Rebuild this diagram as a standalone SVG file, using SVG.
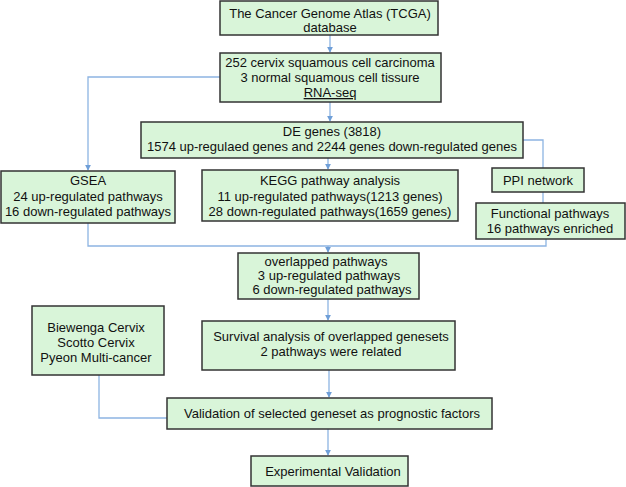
<svg xmlns="http://www.w3.org/2000/svg" width="626" height="487" viewBox="0 0 626 487">
<defs>
<style>
.box{fill:#d9f5d9;stroke:#333;stroke-width:1.5}
.t{font-family:"Liberation Sans",Arial,sans-serif;font-size:13px;fill:#111;text-anchor:middle}
.c{fill:none;stroke:#8db4e2;stroke-width:1.3}
</style>
<marker id="a" viewBox="0 0 8 8" refX="7" refY="4" markerWidth="6" markerHeight="6" orient="auto" markerUnits="userSpaceOnUse">
<path d="M0,0 L8,4 L0,8 z" fill="#6f9fd8"/>
</marker>
</defs>
<rect width="626" height="487" fill="#fff"/>
<g id="connectors">
<path class="c" d="M330,35 V52" marker-end="url(#a)"/>
<path class="c" d="M330,102 V121" marker-end="url(#a)"/>
<path class="c" d="M220,77 H88 V170" marker-end="url(#a)"/>
<path class="c" d="M328,158 V169" marker-end="url(#a)"/>
<path class="c" d="M523,140 H543 V168"/>
<path class="c" d="M543,192 V203"/>
<path class="c" d="M88,223 V246 H546 V239"/>
<path class="c" d="M328,246 V252" marker-end="url(#a)"/>
<path class="c" d="M328,299 V320" marker-end="url(#a)"/>
<path class="c" d="M329,370 V397" marker-end="url(#a)"/>
<path class="c" d="M99,375 V418 H167"/>
<path class="c" d="M328,429 V455" marker-end="url(#a)"/>
</g>
<g id="tcga"><rect class="box" x="220" y="1" width="218" height="34"/>
<text class="t" x="330" y="18">The Cancer Genome Atlas (TCGA)</text>
<text class="t" x="330" y="32">database</text></g>
<g id="samples"><rect class="box" x="220" y="53" width="221" height="49"/>
<text class="t" x="330" y="67">252 cervix squamous cell carcinoma</text>
<text class="t" x="330" y="82">3 normal squamous cell tissure</text>
<text class="t" x="330" y="97" text-decoration="underline">RNA-seq</text></g>
<g id="de"><rect class="box" x="141" y="122" width="382" height="36"/>
<text class="t" x="332" y="136">DE genes (3818)</text>
<text class="t" x="332" y="151">1574 up-regulaed genes and 2244 genes down-regulated genes</text></g>
<g id="gsea"><rect class="box" x="1" y="171" width="174" height="52"/>
<text class="t" x="88" y="185">GSEA</text>
<text class="t" x="88" y="201">24 up-regulated pathways</text>
<text class="t" x="88" y="216">16 down-regulated pathways</text></g>
<g id="kegg"><rect class="box" x="202" y="170" width="256" height="51"/>
<text class="t" x="330" y="185">KEGG pathway analysis</text>
<text class="t" x="330" y="201">11 up-regulated pathways(1213 genes)</text>
<text class="t" x="330" y="216">28 down-regulated pathways(1659 genes)</text></g>
<g id="ppi"><rect class="box" x="492" y="168" width="92" height="24"/>
<text class="t" x="538" y="185">PPI network</text></g>
<g id="functional"><rect class="box" x="476" y="203" width="149" height="36"/>
<text class="t" x="550" y="218">Functional pathways</text>
<text class="t" x="550" y="233">16 pathways enriched</text></g>
<g id="overlapped"><rect class="box" x="238" y="253" width="181" height="46"/>
<text class="t" x="326" y="266">overlapped pathways</text>
<text class="t" x="329" y="280">3 up-regulated pathways</text>
<text class="t" x="332" y="294">6 down-regulated pathways</text></g>
<g id="survival"><rect class="box" x="202" y="321" width="253" height="49"/>
<text class="t" x="331" y="341">Survival analysis of overlapped genesets</text>
<text class="t" x="331" y="356">2 pathways were related</text></g>
<g id="datasets"><rect class="box" x="32" y="306" width="132" height="69"/>
<text class="t" x="96" y="332">Biewenga Cervix</text>
<text class="t" x="96" y="347">Scotto Cervix</text>
<text class="t" x="96" y="362">Pyeon Multi-cancer</text></g>
<g id="validation"><rect class="box" x="167" y="398" width="325" height="31"/>
<text class="t" x="332" y="418">Validation of selected geneset as prognostic factors</text></g>
<g id="experimental"><rect class="box" x="251" y="456" width="157" height="30"/>
<text class="t" x="333" y="476">Experimental Validation</text></g>
</svg>
